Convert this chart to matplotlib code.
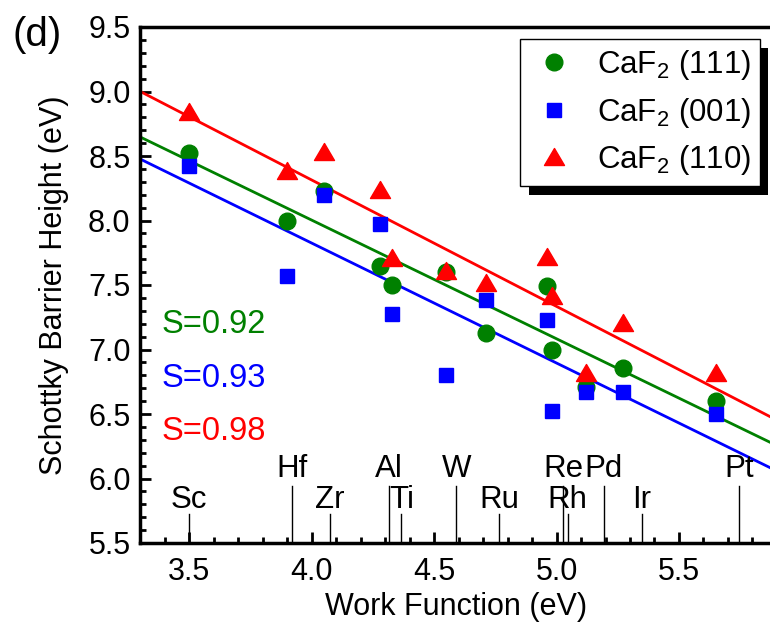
import numpy as np
import matplotlib.pyplot as plt
from matplotlib.patches import Rectangle
from matplotlib.path import Path
from matplotlib.ticker import MultipleLocator

plt.rcParams['font.family'] = ['Liberation Sans', 'DejaVu Sans']
plt.rcParams['mathtext.fontset'] = 'custom'
plt.rcParams['mathtext.rm'] = 'Liberation Sans'
plt.rcParams['mathtext.it'] = 'Liberation Sans:italic'

# metal work functions (eV) and barrier heights (eV) on each CaF2 surface
work_fn = [3.5, 3.9, 4.05, 4.28, 4.33, 4.55, 4.71, 4.96, 4.98, 5.12, 5.27, 5.65]
sbh_111 = [8.52, 8.00, 8.23, 7.645, 7.50, 7.60, 7.125, 7.49, 7.00, 6.71, 6.86, 6.60]
sbh_001 = [8.42, 7.57, 8.195, 7.97, 7.275, 6.80, 7.38, 7.23, 6.52, 6.67, 6.67, 6.50]
sbh_110 = [8.84, 8.38, 8.53, 8.24, 7.71, 7.61, 7.515, 7.715, 7.415, 6.82, 7.205, 6.82]

# linear fits: slope S and value at WF = 3.3 eV
fit_S = [0.92, 0.93, 0.98]
fit_y0 = [8.647, 8.476, 9.0]

# element markers along the bottom axis
upper_el = ['Hf', 'Al', 'W', 'Re', 'Pd', 'Pt']
upper_wf = [3.92, 4.316, 4.59, 5.028, 5.193, 5.745]
lower_el = ['Sc', 'Zr', 'Ti', 'Ru', 'Rh', 'Ir']
lower_wf = [3.50, 4.075, 4.366, 4.765, 5.045, 5.349]

labels = ['CaF$_2$ (111)', 'CaF$_2$ (001)', 'CaF$_2$ (110)']
colors = ['#008000', '#0000ff', '#ff0000']

tri = Path([(-1, -0.8), (1, -0.8), (0, 0.9), (-1, -0.8)],
           [Path.MOVETO, Path.LINETO, Path.LINETO, Path.CLOSEPOLY])

W, H = 770, 626
fig = plt.figure(figsize=(7.7, 6.26), dpi=100)
# plot area is open on the right, it runs up to the figure edge
ax = fig.add_axes([140.3 / W, 83 / H, 632 / W, 516 / H])

xfit = np.array([3.3, 6.0])
for S, y0, c in zip(fit_S, fit_y0, colors):
    ax.plot(xfit, y0 - S * (xfit - 3.3), color=c, lw=2, zorder=2)

h1, = ax.plot(work_fn, sbh_111, 'o', ms=12, color=colors[0], mec=colors[0], zorder=3)
h2, = ax.plot(work_fn, sbh_001, 's', ms=10.3, color=colors[1], mec=colors[1], zorder=3)
h3, = ax.plot(work_fn, sbh_110, marker=tri, ls='none', ms=14.4, color=colors[2],
              mec=colors[2], zorder=3)

for el, x in zip(upper_el, upper_wf):
    ax.plot([x, x], [5.5, 5.944], color='black', lw=1, zorder=1)
    ax.text(x, 6.014, el, ha='center', va='baseline', fontsize=22.5)
for el, x in zip(lower_el, lower_wf):
    ax.plot([x, x], [5.5, 5.725], color='black', lw=1, zorder=1)
    ax.text(x, 5.771, el, ha='center', va='baseline', fontsize=22.5)

s_y = [7.13, 6.712, 6.30]
for S, c, y in zip(fit_S, colors, s_y):
    ax.text(3.387, y, 'S=%.2f' % S, color=c, fontsize=23.5, va='baseline')

ax.set_xlim(3.3, 3.3 + 632 / 244.85)
ax.set_ylim(5.5, 9.5)
ax.xaxis.set_major_locator(MultipleLocator(0.5))
ax.xaxis.set_minor_locator(MultipleLocator(0.1))
ax.yaxis.set_major_locator(MultipleLocator(0.5))
ax.yaxis.set_minor_locator(MultipleLocator(0.1))
ax.tick_params(which='both', direction='in', top=False, right=False, width=2)
ax.tick_params(which='major', length=8, labelsize=22)
ax.tick_params(axis='x', which='major', pad=10)
ax.tick_params(axis='y', which='major', pad=7)
ax.tick_params(which='minor', length=4.5)
for sp in ax.spines.values():
    sp.set_linewidth(2.5)
ax.spines['right'].set_visible(False)

ax.set_xlabel('Work Function (eV)', fontsize=22, labelpad=4)
ax.set_ylabel('Schottky Barrier Height (eV)', fontsize=22, labelpad=14)
fig.text(0.016, 0.944, '(d)', fontsize=29, va='center')

leg = ax.legend([h1, h2, h3], labels, loc='upper right',
                bbox_to_anchor=(760 / W, 1 - 39 / H), bbox_transform=fig.transFigure,
                borderaxespad=0, fontsize=22.5, frameon=True, fancybox=False,
                edgecolor='black', framealpha=1, borderpad=0.3, labelspacing=0.42,
                handlelength=1.6, handletextpad=0.55, numpoints=1)
leg.get_frame().set_linewidth(1)

# drop shadow: black band along the right and bottom edges of the legend box
# (box spans 521-760 px across, 39-186 px down; shadow shifted 8 px, 9 px)
right_band = Rectangle((760 / W, 1 - 195 / H), 8 / W, 147 / H,
                       transform=fig.transFigure, facecolor='black',
                       edgecolor='none', zorder=10)
bottom_band = Rectangle((529 / W, 1 - 195 / H), 239 / W, 9 / H,
                        transform=fig.transFigure, facecolor='black',
                        edgecolor='none', zorder=10)
fig.add_artist(right_band)
fig.add_artist(bottom_band)

fig.savefig('out.png', dpi=100)
